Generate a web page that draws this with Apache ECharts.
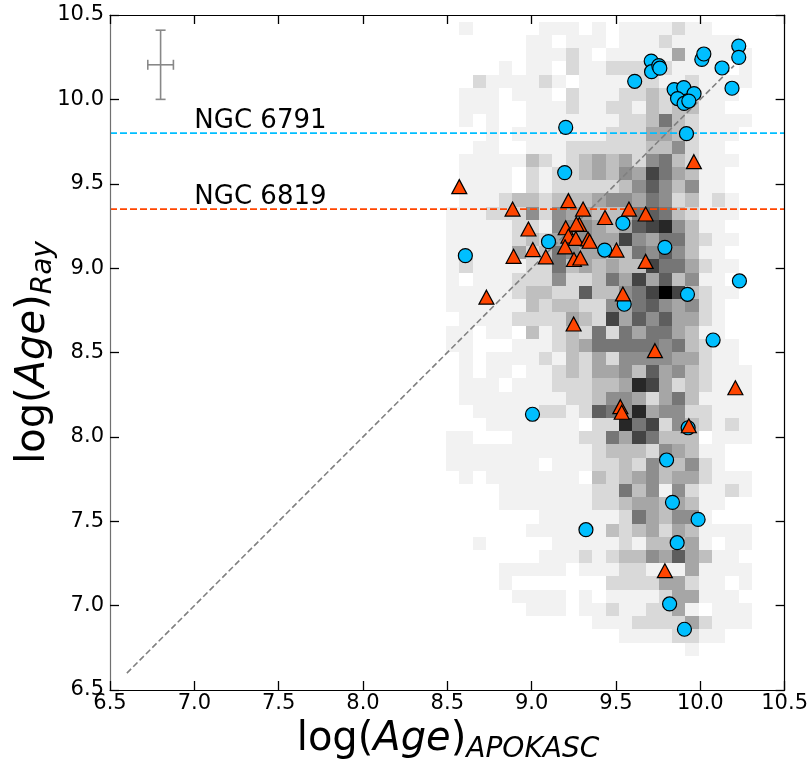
<!DOCTYPE html>
<html><head><meta charset="utf-8">
<script src="https://cdn.jsdelivr.net/npm/echarts@6/dist/echarts.min.js"></script>
<style>html,body{margin:0;padding:0;background:#fff;}#c{width:811px;height:761px;}</style>
</head><body><div id="c"></div>
<script>
// ---------------- data ----------------
const xTickLabels = ['6.5','7.0','7.5','8.0','8.5','9.0','9.5','10.0','10.5'];
const yTickLabels = ['6.5','7.0','7.5','8.0','8.5','9.0','9.5','10.0','10.5'];

// 2D histogram of the background sample (grey level 0..10, 'a' = 10), rows from top
const histX0 = 8.492, histBinX = 0.0789;
const histYTop = 10.460, histBinY = 0.07827;
const histRows = [
"01000001110101111211000",
"00000011011101112111110",
"00000011121011111411111",
"00001011021122222111101",
"00211112101111221121111",
"01110111021112232221110",
"01110011121122132331100",
"01010011111112236321111",
"00010111111122244321110",
"00110011122222233521100",
"01111132123434256321110",
"01111021223435486431100",
"01111021222223575351100",
"01112332333455465231210",
"11122252544333676321110",
"11111221555434789531100",
"11111232445448546632110",
"11111423654433657531100",
"12111122634343386642110",
"10111222522364847351100",
"1111123322733568a832110",
"11111132332254675452100",
"01111222243284757442100",
"11011031232626466431100",
"11000111234666665632110",
"01011112132425555442110",
"01011011232445374532111",
"01110111222334984232111",
"01111111122355424631111",
"00111112212765945522111",
"00011111110229682532121",
"11000111112264863330111",
"11111111111233325431100",
"11111110111223253352100",
"01011111110323453442111",
"00001111111226351521121",
"00001111111223443431100",
"00000001111112643551000",
"00000011111132342431111",
"00100000111112133341011",
"00000001112123354743110",
"00001111101112211141111",
"00001000000022224421101",
"00000111101011112441110",
"00000011101121122410111",
"00000000000111222242111",
"00000000000001111221100",
"00000000000000000010000"
];

// cluster stars (blue circles)
const circX = [8.607,9.202,9.196,9.100,9.433,9.541,9.790,9.611,9.709,9.711,9.754,9.760,9.845,9.902,9.963,9.865,9.904,9.932,10.009,10.021,10.129,10.188,10.228,10.228,9.918,10.232,9.924,9.549,10.076,9.005,9.928,9.800,9.835,9.987,9.322,9.863,9.818,9.906];
const circY = [9.074,9.834,9.566,9.157,9.107,9.266,9.123,10.107,10.227,10.164,10.200,10.185,10.058,10.070,10.034,10.005,9.976,9.990,10.237,10.269,10.186,10.066,10.316,10.249,9.797,8.924,8.845,8.786,8.574,8.134,8.054,7.863,7.612,7.511,7.450,7.373,7.010,6.860];

// cluster stars (orange triangles)
const triX = [8.571,8.887,9.218,9.305,8.981,9.202,9.283,9.265,9.218,9.262,9.334,9.344,9.198,9.007,9.084,8.893,9.251,9.289,9.435,9.503,9.577,9.676,9.676,9.962,8.732,9.541,9.249,9.731,10.208,9.526,9.534,9.932,9.790];
const triY = [9.483,9.350,9.400,9.350,9.232,9.239,9.259,9.261,9.190,9.176,9.173,9.159,9.126,9.110,9.067,9.070,9.051,9.060,9.300,9.107,9.350,9.321,9.040,9.631,8.828,8.847,8.669,8.511,8.291,8.179,8.146,8.066,7.207];

// reference lines and their labels
const clusterNames = ['NGC 6791', 'NGC 6819'];
const clusterAges = [9.8, 9.35];
const labelX = 7.0;
const diagStart = 6.6, diagEnd = 10.2;

// typical error bar
const errCenter = [6.8, 10.205];
const errSize = [0.076, 0.205];

// ---------------- chart ----------------
const FONT = "'DejaVu Sans', sans-serif";
const greys = ['#ffffff','#f2f2f2','#d9d9d9','#bfbfbf','#a6a6a6','#8e8e8e','#767676','#5e5e5e','#444444','#272727','#000000'];
const lineColors = ['#00BFFF', '#FF4500'];

const histData = [];
histRows.forEach((row, i) => {
  const yHi = histYTop - histBinY * i, yLo = yHi - histBinY;
  for (let j = 0; j < row.length; j++) {
    const lv = parseInt(row[j], 16);
    if (!lv) continue;
    const xLo = histX0 + histBinX * j;
    histData.push([xLo, yLo, xLo + histBinX, yHi, lv]);
  }
});

const chart = echarts.init(document.getElementById('c'), null, {renderer: 'canvas'});

const valueToLabel = (labels) => (v) => {
  const idx = Math.round((v - 6.5) / 0.5);
  return labels[idx] !== undefined ? labels[idx] : '';
};

const baseAxis = {
  type: 'value', min: 6.5, max: 10.5, interval: 0.5, z: 20,
  splitLine: {show: false},
  axisTick: {show: true, inside: true, length: 9, lineStyle: {color: '#000', width: 1.3}},
  axisLine: {show: true, onZero: false, lineStyle: {color: '#000', width: 1.2}}
};

const richTitle = {
  m: {fontSize: 40, fontFamily: FONT, lineHeight: 48, fill: '#000'},
  i: {fontSize: 40, fontFamily: FONT, fontStyle: 'italic', lineHeight: 48, fill: '#000'},
  s: {fontSize: 28, fontFamily: FONT, fontStyle: 'italic', lineHeight: 28, padding: [20, 0, 0, 0], fill: '#000'}
};

const series = [
  {
    type: 'custom', name: 'hist', z: 1, silent: true,
    data: histData,
    renderItem: function (params, api) {
      const p0 = api.coord([api.value(0), api.value(3)]);
      const p1 = api.coord([api.value(2), api.value(1)]);
      const x0 = Math.round(p0[0]), y0 = Math.round(p0[1]);
      const x1 = Math.round(p1[0]), y1 = Math.round(p1[1]);
      return {type: 'rect', shape: {x: x0, y: y0, width: x1 - x0, height: y1 - y0},
        style: {fill: greys[api.value(4)]}};
    }
  },
  {
    type: 'line', name: 'one-to-one', z: 2, silent: true, showSymbol: false, symbol: 'none',
    data: [[diagStart, diagStart], [diagEnd, diagEnd]],
    lineStyle: {color: '#808080', width: 1.6, type: [6, 3]}
  }
];
clusterAges.forEach((age, k) => {
  series.push({
    type: 'line', name: clusterNames[k], z: 2, silent: true, showSymbol: false, symbol: 'none',
    data: [[6.5, age], [10.5, age]],
    lineStyle: {color: lineColors[k], width: 1.8, type: [7, 3]}
  });
});
series.push(
  {
    type: 'custom', name: 'labels', z: 3, silent: true,
    data: clusterAges.map(a => [labelX, a]),
    renderItem: function (params, api) {
      const p = api.coord([api.value(0), api.value(1)]);
      return {type: 'text', x: p[0], y: p[1] + 1,
        style: {text: clusterNames[params.dataIndex], fontSize: 26, fontFamily: FONT,
          fill: '#000', align: 'left', verticalAlign: 'bottom'}};
    }
  },
  {
    type: 'custom', name: 'errorbar', z: 2, silent: true,
    data: [[errCenter[0], errCenter[1], errSize[0], errSize[1]]],
    renderItem: function (params, api) {
      const x = api.value(0), y = api.value(1), ex = api.value(2), ey = api.value(3);
      const l = api.coord([x - ex, y]), r = api.coord([x + ex, y]);
      const t = api.coord([x, y + ey]), b = api.coord([x, y - ey]);
      const cap = 5;
      const st = {stroke: '#888888', lineWidth: 1.6};
      const ln = (x1, y1, x2, y2) => ({type: 'line', shape: {x1, y1, x2, y2}, style: st});
      return {type: 'group', children: [
        ln(l[0], l[1], r[0], r[1]),
        ln(t[0], t[1], b[0], b[1]),
        ln(l[0], l[1] - cap, l[0], l[1] + cap),
        ln(r[0], r[1] - cap, r[0], r[1] + cap),
        ln(t[0] - cap, t[1], t[0] + cap, t[1]),
        ln(b[0] - cap, b[1], b[0] + cap, b[1])
      ]};
    }
  },
  {
    type: 'scatter', name: 'circles', z: 4, silent: true, symbol: 'circle', symbolSize: 14,
    data: circX.map((x, i) => [x, circY[i]]),
    itemStyle: {color: '#00BFFF', borderColor: '#000', borderWidth: 1.2, opacity: 1}
  },
  {
    type: 'scatter', name: 'triangles', z: 5, silent: true, symbol: 'triangle', symbolSize: [15, 14],
    data: triX.map((x, i) => [x, triY[i]]),
    itemStyle: {color: '#FF4500', borderColor: '#000', borderWidth: 1.2, opacity: 1}
  }
);

chart.setOption({
  animation: false,
  backgroundColor: '#fff',
  grid: {left: 110, right: 25, top: 15, bottom: 71, containLabel: false},
  xAxis: [
    Object.assign({}, baseAxis, {position: 'bottom',
      axisLabel: {show: true, margin: 3, color: '#000', fontSize: 21, fontFamily: FONT,
        showMinLabel: true, showMaxLabel: true, formatter: valueToLabel(xTickLabels)}}),
    Object.assign({}, baseAxis, {position: 'top', axisLabel: {show: false}})
  ],
  yAxis: [
    Object.assign({}, baseAxis, {position: 'left',
      axisLine: {show: true, onZero: false, lineStyle: {color: '#707070', width: 1.2}},
      axisLabel: {show: true, margin: 6, color: '#000', fontSize: 21, fontFamily: FONT,
        showMinLabel: true, showMaxLabel: true, formatter: valueToLabel(yTickLabels)}}),
    Object.assign({}, baseAxis, {position: 'right', axisLabel: {show: false}})
  ],
  graphic: [
    {type: 'text', x: 448, y: 715.5, silent: true, z: 10,
      style: {text: '{m|log(}{i|Age}{m|)}{s|APOKASC}', align: 'center', verticalAlign: 'top', rich: richTitle}},
    {type: 'text', x: 9.5, y: 352.5, rotation: Math.PI / 2, silent: true, z: 10,
      style: {text: '{m|log(}{i|Age}{m|)}{s|Ray}', align: 'center', verticalAlign: 'top', rich: richTitle}}
  ],
  series: series
});
</script>
</body></html>
